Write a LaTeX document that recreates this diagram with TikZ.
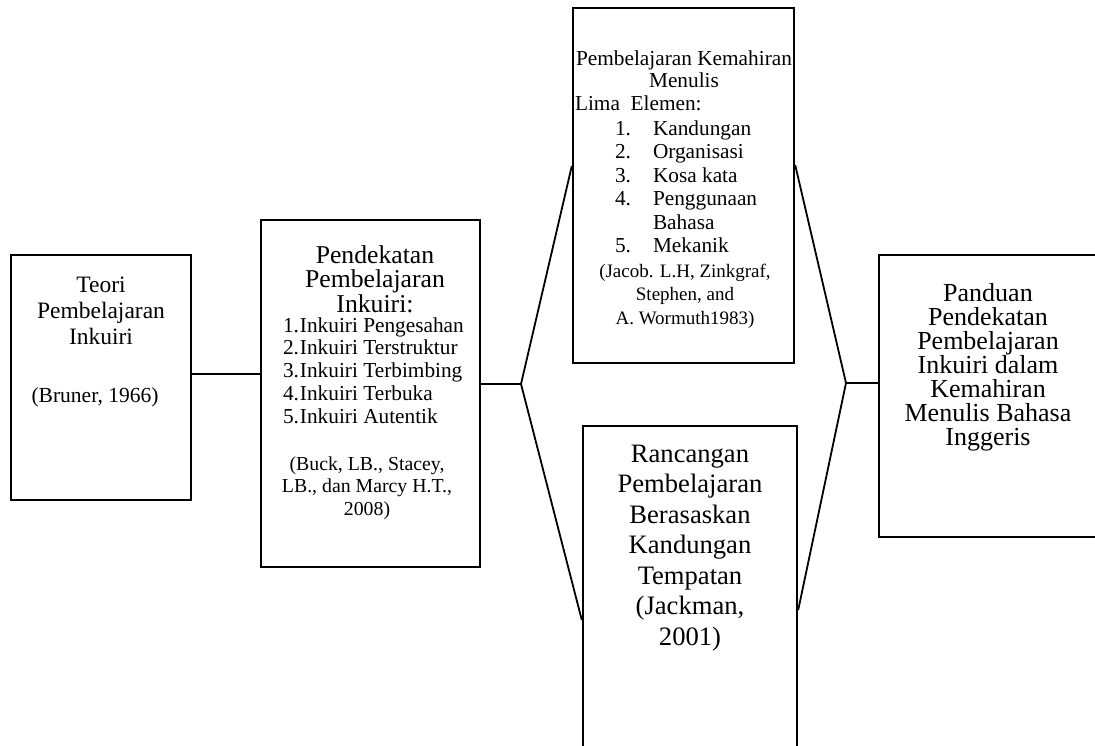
\documentclass[tikz,border=0pt]{standalone}
\usepackage{fontspec}
\setmainfont{Liberation Serif}
\newcommand\mytopstrut{\rule{0pt}{20pt}}
\tikzset{
  box/.style={draw, line width=2.4pt, rectangle, inner sep=0pt},
  link/.style={line width=1.8pt},
  txt/.style={inner sep=0pt, outer sep=0pt, align=center, anchor=north},
  ltxt/.style={inner sep=0pt, outer sep=0pt, align=left, anchor=north west},
}
\begin{document}
\begin{tikzpicture}[x=1pt, y=-1pt]
\fill[white] (0,0) rectangle (1095,745);
\clip (0,0) rectangle (1095,745);

% boxes
\node[box, minimum width=180pt, minimum height=245pt] (b1) at (101,377.5) {};
\node[box, minimum width=219pt, minimum height=347pt] (b2) at (370.5,393.5) {};
\node[box, minimum width=221pt, minimum height=355pt] (b3) at (683.5,185.5) {};
\node[box, minimum width=214pt, minimum height=374pt] (b4) at (690,613) {};
\node[box, minimum width=241pt, minimum height=282pt] (b5) at (999.5,396) {};

% helper coordinates
\coordinate (y12) at (0,374);
\coordinate (apL) at (521,384);
\coordinate (apR) at (846,383);
\coordinate (yL3) at (0,166);
\coordinate (yL4) at (0,620);
\coordinate (yR3) at (0,165);
\coordinate (yR4) at (0,610);

% connectors
\draw[link] (b1.east |- y12) -- (b2.west |- y12);
\draw[link] (b2.east |- apL) -- (apL);
\draw[link] (b3.west |- yL3) -- (apL) -- (b4.west |- yL4);
\draw[link] (b3.east |- yR3) -- (apR) -- (b4.east |- yR4);
\draw[link] (apR) -- (b5.west |- apR);

% box 1 text
\node[txt, font=\fontsize{23.5}{26}\selectfont] (t1) at (101,272)
  {\mytopstrut Teori\\Pembelajaran\\Inkuiri};
\node[txt, font=\fontsize{21.5}{24}\selectfont] (t1c) at (95,382)
  {\mytopstrut(Bruner, 1966)};

% box 2 text
\node[txt, font=\fontsize{25.7}{24.5}\selectfont] (t2) at (375,243)
  {\mytopstrut Pendekatan\\Pembelajaran\\Inkuiri:};
\node[ltxt, font=\fontsize{21.3}{22.8}\selectfont] (t2l) at (283,312)
  {\mytopstrut 1.\kern1pt Inkuiri Pengesahan\\2.\kern1pt Inkuiri Terstruktur\\3.\kern1pt Inkuiri Terbimbing\\4.\kern1pt Inkuiri Terbuka\\5.\kern1pt Inkuiri Autentik};
\node[txt, font=\fontsize{19.8}{22.5}\selectfont] (t2c) at (367,450)
  {\mytopstrut(Buck, LB., Stacey,\\LB., dan Marcy H.T.,\\2008)};

% box 3 text
\node[txt, font=\fontsize{21.3}{22}\selectfont] (t3) at (684,45)
  {\mytopstrut Pembelajaran Kemahiran\\Menulis};
\node[ltxt, font=\fontsize{21.3}{23.5}\selectfont] (t3e) at (575,90)
  {\mytopstrut Lima\ \ Elemen:};
\node[ltxt, font=\fontsize{21.3}{23.5}\selectfont] (t3l) at (615,115)
  {\mytopstrut\makebox[38pt][l]{1.}Kandungan\\\makebox[38pt][l]{2.}Organisasi\\\makebox[38pt][l]{3.}Kosa kata\\\makebox[38pt][l]{4.}Penggunaan\\\hspace*{38pt}Bahasa\\\makebox[38pt][l]{5.}Mekanik};
\node[txt, font=\fontsize{19}{23.5}\selectfont] (t3c) at (685,257)
  {\mytopstrut(Jacob. L.H, Zinkgraf,\\Stephen, and\\A. Wormuth1983)};

% box 4 text
\node[txt, font=\fontsize{26.6}{30.5}\selectfont] (t4) at (690,442)
  {\mytopstrut Rancangan\\Pembelajaran\\Berasaskan\\Kandungan\\Tempatan\\(Jackman,\\2001)};

% box 5 text
\node[txt, font=\fontsize{26}{24}\selectfont] (t5) at (988,281)
  {\mytopstrut Panduan\\Pendekatan\\Pembelajaran\\Inkuiri dalam\\Kemahiran\\Menulis Bahasa\\Inggeris};
\end{tikzpicture}
\end{document}
